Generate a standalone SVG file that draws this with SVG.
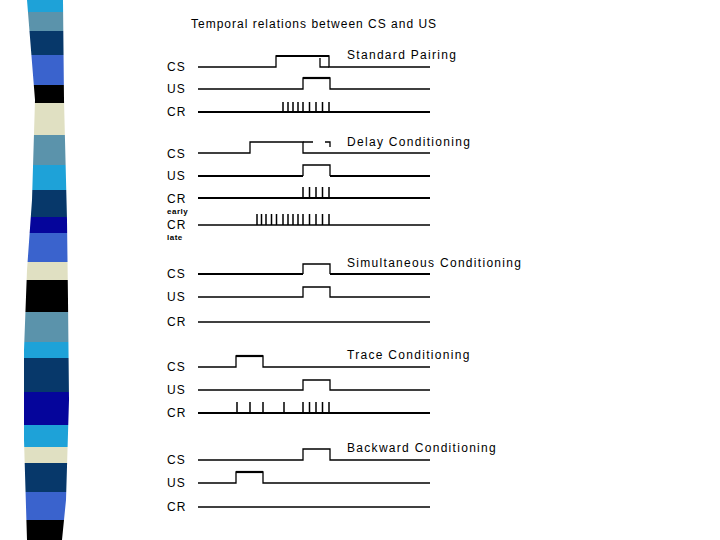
<svg xmlns="http://www.w3.org/2000/svg" width="720" height="540" viewBox="0 0 720 540">
<style>
text{font-family:"Liberation Sans",Arial,sans-serif;font-size:12px;letter-spacing:1px;fill:#000}
.sec{letter-spacing:1.3px}
.sm{font-size:8px;font-weight:bold;letter-spacing:0.5px}
.thin{fill:none;stroke:#000;stroke-width:1.3}
.thick{fill:none;stroke:#000;stroke-width:2.2}
.tk{stroke:#000;stroke-width:1.5}
</style>
<defs>
<clipPath id="bar"><polygon points="27,0 63,0 64,100 67,220 68,300 69,400 66,500 62,540 27,540 24,440 24,350 27,270 32,200 35,100"/></clipPath>
</defs>
<rect width="720" height="540" fill="#fff"/>
<g id="stripes" clip-path="url(#bar)">
<rect x="0" y="0" width="80" height="12" fill="#1ea2d8"/>
<rect x="0" y="12" width="80" height="19" fill="#5b93ab"/>
<rect x="0" y="31" width="80" height="24" fill="#07386a"/>
<rect x="0" y="55" width="80" height="30" fill="#3a63cd"/>
<rect x="0" y="85" width="80" height="18" fill="#000"/>
<rect x="0" y="103" width="80" height="32" fill="#e0e0c2"/>
<rect x="0" y="135" width="80" height="30" fill="#5b93ab"/>
<rect x="0" y="165" width="80" height="25" fill="#1ea2d8"/>
<rect x="0" y="190" width="80" height="27" fill="#07386a"/>
<rect x="0" y="217" width="80" height="16" fill="#05059b"/>
<rect x="0" y="233" width="80" height="29" fill="#3a63cd"/>
<rect x="0" y="262" width="80" height="18" fill="#e0e0c2"/>
<rect x="0" y="280" width="80" height="32" fill="#000"/>
<rect x="0" y="312" width="80" height="30" fill="#5b93ab"/>
<rect x="0" y="342" width="80" height="16" fill="#1ea2d8"/>
<rect x="0" y="358" width="80" height="34" fill="#07386a"/>
<rect x="0" y="392" width="80" height="33" fill="#05059b"/>
<rect x="0" y="425" width="80" height="22" fill="#1ea2d8"/>
<rect x="0" y="447" width="80" height="16" fill="#e0e0c2"/>
<rect x="0" y="463" width="80" height="29" fill="#07386a"/>
<rect x="0" y="492" width="80" height="28" fill="#3a63cd"/>
<rect x="0" y="520" width="80" height="20" fill="#000"/>
</g>
<text id="title" x="191" y="28">Temporal relations between CS and US</text>

<g id="standard">
<text class="sec" x="347" y="59">Standard Pairing</text>
<text x="167" y="71">CS</text>
<text x="167" y="93">US</text>
<text x="167" y="116">CR</text>
<path class="thin" d="M198,67 H276 V56 H329 V67 H430"/>
<path class="thick" d="M276,56 H329"/>
<path class="thin" d="M320,58 V67 H329"/>
<path class="thin" d="M198,89 H303 V78 H330 V89 H430"/>
<path class="thick" d="M303,78 H330"/>
<path class="thick" d="M198,112 H430"/>
<path class="tk" d="M283,102V112M288,102V112M293,102V112M298,102V112M303,102V112M309.5,102V112M316,102V112M322.5,102V112M329,102V112"/>
</g>

<g id="delay">
<text class="sec" x="347" y="146">Delay Conditioning</text>
<text x="167" y="158">CS</text>
<text x="167" y="180">US</text>
<text x="167" y="203">CR</text>
<text class="sm" x="167" y="214">early</text>
<text x="167" y="229">CR</text>
<text class="sm" x="167" y="240">late</text>
<path class="thin" d="M198,153 H250 V142 H303 V153 H430"/>
<path class="thin" d="M303,142 H330 V153" stroke-dasharray="10 12"/>
<path class="thick" d="M198,176 H303 M330,176 H430"/>
<path class="thin" d="M303,176 V165 H330 V176"/>
<path class="thick" d="M198,198 H430"/>
<path class="tk" d="M303,187V198M309.5,187V198M316,187V198M322.5,187V198M329,187V198"/>
<path class="thin" d="M198,225 H430"/>
<path class="tk" d="M257,214V225M261.5,214V225M266,214V225M271.5,214V225M276.5,214V225M283,214V225M288,214V225M293,214V225M298,214V225M303,214V225M309.5,214V225M316,214V225M322.5,214V225M329,214V225"/>
</g>

<g id="simultaneous">
<text class="sec" x="347" y="267">Simultaneous Conditioning</text>
<text x="167" y="278">CS</text>
<text x="167" y="301">US</text>
<text x="167" y="326">CR</text>
<path class="thick" d="M198,274 H303 M330,274 H430"/>
<path class="thin" d="M303,274 V264 H330 V274"/>
<path class="thin" d="M198,297 H303 V287 H330 V297 H430"/>
<path class="thin" d="M198,322 H430"/>
</g>

<g id="trace">
<text class="sec" x="347" y="359">Trace Conditioning</text>
<text x="167" y="371">CS</text>
<text x="167" y="394">US</text>
<text x="167" y="417">CR</text>
<path class="thin" d="M198,367 H236 V356 H263 V367 H430"/>
<path class="thick" d="M236,356 H263"/>
<path class="thin" d="M198,390 H303 V380 H330 V390 H430"/>
<path class="thick" d="M198,413 H430"/>
<path class="tk" d="M237,402V413M250,402V413M263,402V413M284,402V413M303,402V413M309.5,402V413M316,402V413M322.5,402V413M329,402V413"/>
</g>

<g id="backward">
<text class="sec" x="347" y="452">Backward Conditioning</text>
<text x="167" y="464">CS</text>
<text x="167" y="487">US</text>
<text x="167" y="511">CR</text>
<path class="thin" d="M198,460 H303 V449 H330 V460 H430"/>
<path class="thin" d="M198,483 H236 V472 H263 V483 H430"/>
<path class="thick" d="M236,472 H263"/>
<path class="thin" d="M198,507 H430"/>
</g>
</svg>
